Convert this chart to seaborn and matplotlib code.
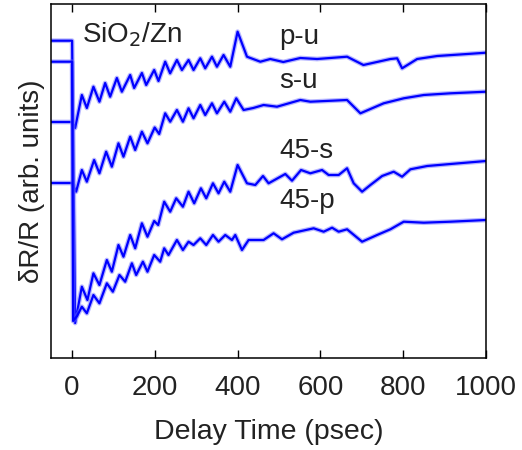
import matplotlib
matplotlib.use("Agg")
import matplotlib.pyplot as plt
import seaborn as sns
import pandas as pd

# ---- data (t in psec, signal in arb. units) ----
pu_t = [-50, 0, 7.3, 23.5, 35.6, 51.5, 66, 79.8, 91.9, 108.1, 120.2, 140.3, 149.9, 168.6, 179,
        198.3, 208.7, 224.9, 236.8, 253.2, 265.3, 281.3, 293.4, 309.6, 321.6, 337.9, 349.9,
        365.9, 382.1, 399.8, 422.5, 454.7, 478.8, 510.3, 551.4, 591.8, 664.3, 703.8, 769,
        785.3, 797.3, 833.6, 882, 954.5, 1000]
pu_v = [236, 236, 230, 263, 250, 271.3, 256.3, 275, 261.3, 280, 266.3, 283, 270, 285, 273,
        288, 277, 296.3, 284.7, 298, 288, 298, 288, 299.7, 289.7, 301.3, 291.3,
        303, 291.3, 326.3, 301.3, 296.3, 299, 296, 300, 299, 301.3, 293, 299,
        299.7, 289.7, 299, 302, 304, 305.3]

su_t = [-50, 0, 9.7, 23.5, 35.6, 53.2, 66, 82.2, 96, 112, 124.1, 140.3, 152.4, 168.6, 182.1,
        199.5, 210.4, 224.9, 237, 253.2, 267.7, 281.3, 293.4, 309.6, 321.6, 337.9, 349.9,
        367.6, 382.1, 396.6, 414.3, 437.7, 462.6, 495, 551.4, 575.6, 664.3, 696.5, 752.8,
        801.2, 849.6, 914.2, 1000]
su_v = [175, 175, 166.3, 188, 176.3, 198, 184.7, 206.3, 191.3, 214.7, 201.3, 221.3, 208, 226.3, 214.7,
        230.5, 224, 244.7, 236.3, 248, 236.3, 249.7, 239.7, 253, 243, 254.7, 244.7,
        256.3, 246.3, 259.7, 248, 250, 253, 251.3, 258, 256.3, 258, 244.7, 254.7,
        259.7, 263, 264.7, 266.3]

s45_t = [-50, 0, 7.3, 23.5, 37, 51.5, 66, 83.9, 96, 112, 124.1, 140.3, 152.4, 168.6, 182.1,
         198.3, 208, 222.5, 237, 251.5, 267.7, 281.3, 295, 311.2, 324.1, 340.3, 353.8,
         367.6, 382.1, 399.8, 422.5, 442.6, 461.2, 474.7, 515.1, 531.3, 553.1, 575.6, 603.9,
         619.8, 644, 664.3, 680.3, 700.6, 720.7, 749, 777, 797.3, 817.4, 857.8, 914.2, 1000]
s45_v = [317.3, 317.3, 35, 71.3, 58, 84.7, 73, 98, 86.3, 113, 101.3, 123, 109.7, 134.7, 121.3,
         137, 133, 156.3, 146.3, 159.7, 151.3, 166.3, 154.7, 169.7, 159.7, 174.7, 164.7,
         176.3, 166.3, 193, 174.7, 173, 182, 174.7, 184, 177.3, 188, 184.7, 188,
         183, 183, 189.7, 174.7, 166.3, 173, 182, 186.3, 181.3, 188.7, 192, 194, 197]

p45_t = [-50, 0, 2.4, 12, 23.5, 35.6, 51.5, 66, 83.9, 98.4, 114.4, 128.2, 144.4, 154.8, 171,
         182.1, 198.3, 212.8, 222.5, 232.9, 253.2, 267.7, 281.3, 293.4, 309.6, 324.1, 340.3,
         353.8, 370, 386.2, 394.2, 410.4, 426.4, 462.6, 486.8, 507.1, 535.2, 583.6, 607.8,
         628.1, 644, 664.3, 700.6, 736.9, 769, 801.2, 849.6, 914.2, 1000]
p45_v = [296.3, 296.3, 37, 42, 51.3, 44.7, 63, 54.7, 74.7, 66.3, 83, 76.3, 94.7, 83, 96.3,
         86.3, 103, 96.3, 109.7, 103, 118, 108, 116.3, 113, 119.7, 113, 123,
         116.3, 123, 118, 123, 108, 118, 118, 124.7, 118.7, 125.3, 129.7, 126.3,
         130.3, 126.3, 128.7, 116.3, 123, 128.7, 136.3, 135.3, 136.3, 138]

trace_names = ["p-u", "s-u", "45-s", "45-p"]
x_ticks = [0, 200, 400, 600, 800, 1000]

frames = []
for name, tt, vv in zip(trace_names, [pu_t, su_t, s45_t, p45_t], [pu_v, su_v, s45_v, p45_v]):
    frames.append(pd.DataFrame({"t": tt, "v": vv, "trace": name}))
df = pd.concat(frames, ignore_index=True)

sns.set_style("white")
plt.rcParams["font.family"] = ["Liberation Sans", "DejaVu Sans"]
txt_color = "#222222"
fs = 20

fig = plt.figure(figsize=(5.22, 4.5), dpi=100)
ax = fig.add_axes([51 / 522, 92 / 450, 435 / 522, 354 / 450])

for name in trace_names:
    sub = df[df["trace"] == name]
    sns.lineplot(data=sub, x="t", y="v", ax=ax, color="#7070ff", lw=3.4, alpha=0.5,
                 sort=False, estimator=None, solid_joinstyle="round")
    sns.lineplot(data=sub, x="t", y="v", ax=ax, color="#0000ff", lw=1.6,
                 sort=False, estimator=None, solid_joinstyle="round")

ax.set_xlim(-51, 1000)
ax.set_ylim(0, 354)
ax.set_xticks(x_ticks)
ax.set_xticklabels([str(v) for v in x_ticks], fontsize=fs, color=txt_color)
ax.set_yticks([])
ax.tick_params(axis="x", direction="in", length=6, width=1, top=True, bottom=True,
               pad=12, colors="black", labelcolor=txt_color)
for s in ax.spines.values():
    s.set_color("black")
    s.set_linewidth(1.1)

ax.set_xlabel("Delay Time (psec)", fontsize=fs + 0.5, color=txt_color, labelpad=13)
ax.set_ylabel("δR/R (arb. units)", fontsize=fs, color=txt_color, labelpad=4)

ax.text(82 / 522, 1 - 42 / 450, "SiO$_2$/Zn", transform=fig.transFigure, fontsize=fs,
        color=txt_color, ha="left", va="baseline")
for lbl, ypix in [("p-u", 44), ("s-u", 88), ("45-s", 158), ("45-p", 208)]:
    ax.text(279 / 522, 1 - ypix / 450, lbl, transform=fig.transFigure, fontsize=fs,
            color=txt_color, ha="left", va="baseline")

fig.savefig("out.png", dpi=100)
